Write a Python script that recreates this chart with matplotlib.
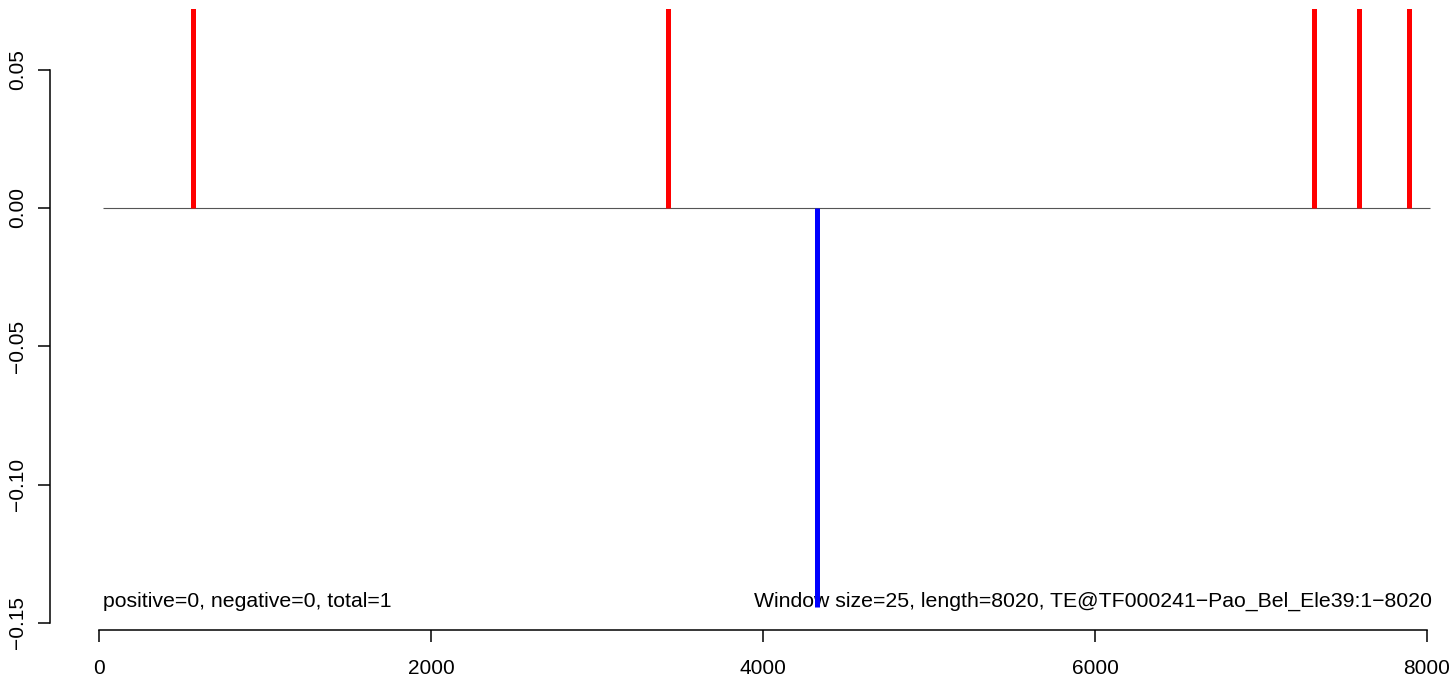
import matplotlib
matplotlib.use('Agg')
import matplotlib.pyplot as plt

plt.rcParams['font.family'] = ['Liberation Sans', 'DejaVu Sans']

# positions of the windows and their scores (positive ones are clipped at the top)
pos_x = [566, 3428, 7319, 7590, 7892]
pos_y = [0.075, 0.075, 0.075, 0.075, 0.075]
neg_x = [4328]
neg_y = [-0.1443]

xticks = [0, 2000, 4000, 6000, 8000]
yticks = [-0.15, -0.10, -0.05, 0.00, 0.05]
ytick_labels = ['\u22120.15', '\u22120.10', '\u22120.05', '0.00', '0.05']

seq_start, seq_end = 25, 8020
left_note = 'positive=0, negative=0, total=1'
right_note = 'Window size=25, length=8020, TE@TF000241\u2212Pao_Bel_Ele39:1\u22128020'

W, H = 1449, 678
fig = plt.figure(figsize=(W / 100, H / 100), dpi=100)
# plot region in pixels
px_l, px_r, px_t, px_b = 50, 1440, 9, 630
ax = fig.add_axes([px_l / W, (H - px_b) / H, (px_r - px_l) / W, (px_b - px_t) / H])

ax.set_xlim(-295.2, 8078)
ax.set_ylim(-0.1526, 0.0719)

ax.hlines(0, seq_start, seq_end, color='#555555', lw=0.8, zorder=1)
ax.vlines(pos_x, 0, pos_y, color='#ff0000', lw=3.6, zorder=3)
ax.text(seq_start, -0.1443, left_note, ha='left', va='baseline', fontsize=15.3, zorder=2)
ax.text(seq_end + 10, -0.1443, right_note, ha='right', va='baseline', fontsize=15.3, zorder=2)
ax.vlines(neg_x, 0, neg_y, color='#0000ff', lw=3.6, zorder=3)

for s in ['top', 'right']:
    ax.spines[s].set_visible(False)
ax.spines['left'].set_bounds(-0.15, 0.05)
ax.spines['bottom'].set_bounds(0, 8000)
for s in ['left', 'bottom']:
    ax.spines[s].set_linewidth(1.1)

ax.set_xticks(xticks)
ax.set_xticklabels([str(t) for t in xticks], fontsize=15)
ax.set_yticks(yticks)
ax.set_yticklabels(ytick_labels, fontsize=15, rotation=90, va='center')
ax.tick_params(axis='both', direction='out', length=8.6, width=1.1)
ax.tick_params(axis='x', pad=12.5)
ax.tick_params(axis='y', pad=8)

fig.savefig('out.png', dpi=100)
